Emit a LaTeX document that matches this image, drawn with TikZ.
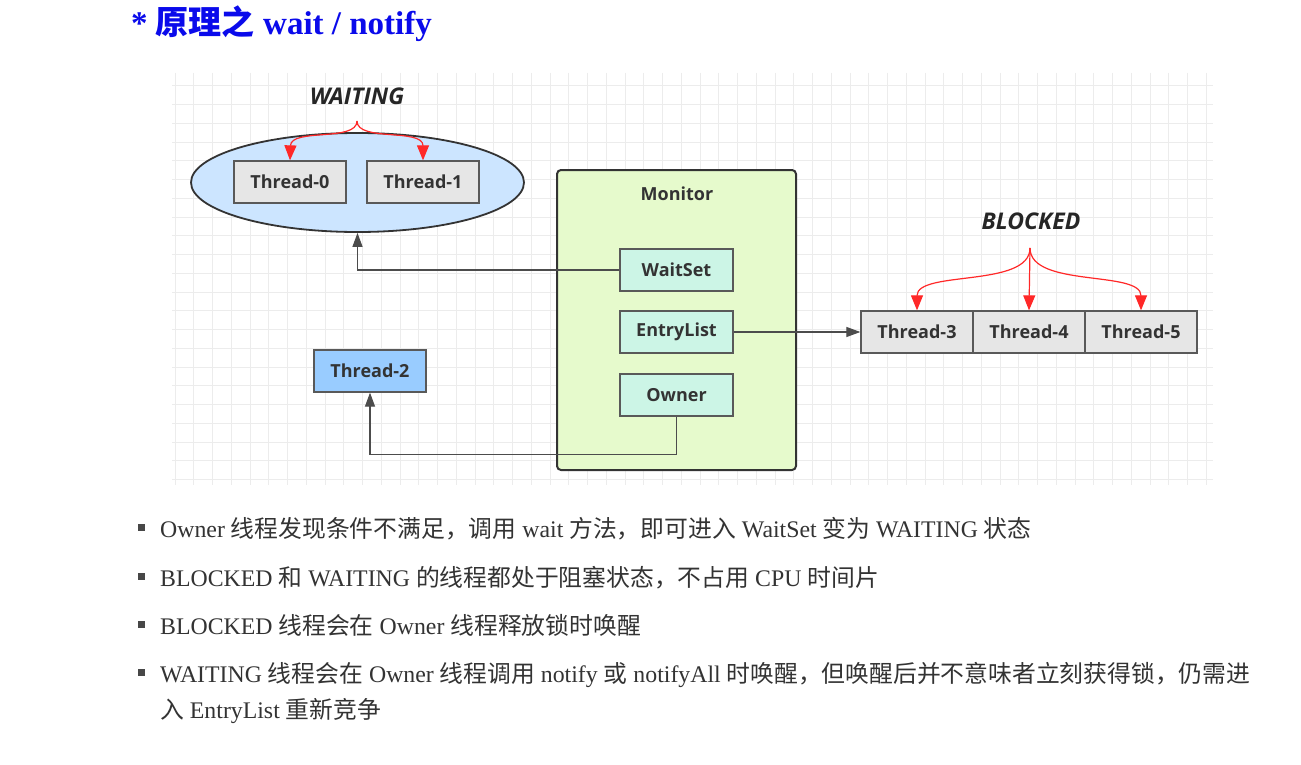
\documentclass[tikz,border=0pt]{standalone}
\usepackage{fontspec}
\setmainfont{Liberation Serif}
\newfontfamily\zhfont{Noto Sans CJK SC}
\newfontfamily\diagfont{Open Sans}
\usetikzlibrary{arrows.meta,shapes.geometric}
\definecolor{titleblue}{RGB}{10,10,235}
\definecolor{textgray}{RGB}{51,51,51}
\definecolor{ellblue}{RGB}{204,229,255}
\definecolor{monigreen}{RGB}{230,250,204}
\definecolor{slotmint}{RGB}{204,245,230}
\definecolor{boxgray}{RGB}{230,230,230}
\definecolor{threadblue}{RGB}{153,204,255}
\definecolor{gridgray}{RGB}{236,236,236}
\definecolor{arrred}{RGB}{255,40,40}
\newcommand{\zh}[1]{{\zhfont #1}}

\begin{document}
\begin{tikzpicture}[x=1pt,y=-1pt,
  threadbox/.style={draw=black!65, fill=boxgray, line width=1.3pt, minimum width=112pt, minimum height=42pt, inner sep=0pt,
    font=\diagfont\bfseries\fontsize{18}{20}\selectfont, text=black!80},
  slotbox/.style={threadbox, fill=slotmint, minimum width=113pt},
  statelabel/.style={font=\diagfont\bfseries\itshape\fontsize{23}{26}\selectfont, text=black!85},
  darr/.style={draw=black!70, line width=1.2pt, -{Triangle[length=14pt,width=10pt]}},
  redarr/.style={draw=arrred, line width=1.2pt, -{Triangle[length=15pt,width=12pt]}},
  bodytext/.style={anchor=base west, inner sep=0pt, text=textgray, font=\fontsize{23.8}{28}\selectfont},
  bulletsq/.style={fill=textgray!90, minimum size=7pt, inner sep=0pt}]
\useasboundingbox[fill=white] (0,0) rectangle (1301,765);

% grid background
\foreach \gx in {0,...,55}
  \draw[gridgray, line width=0.8pt] (175+18.75*\gx,73) -- (175+18.75*\gx,485);
\foreach \gy in {0,...,21}
  \draw[gridgray, line width=0.8pt] (172,85.75+18.75*\gy) -- (1213,85.75+18.75*\gy);

% title
\node[anchor=base west, inner sep=0pt, text=titleblue, font=\bfseries\fontsize{33}{36}\selectfont] (title) at (131,35) {* \zh{原理之} wait / notify};

% waiting side
\node[ellipse, draw=black!80, line width=1.8pt, fill=ellblue, minimum width=333pt, minimum height=99pt, inner sep=0pt] (waiting) at (357.5,182.5) {};
\node[threadbox] (t0) at (290,182) {Thread-0};
\node[threadbox] (t1) at (423,182) {Thread-1};
\node[statelabel] (waitlbl) at (357,96) {WAITING};
\coordinate (wfork) at (357,121);

% monitor
\node[draw=black!80, line width=2pt, rounded corners=4pt, fill=monigreen, minimum width=239pt, minimum height=300pt] (monitor) at (676.5,320) {};
\node[font=\diagfont\bfseries\fontsize{18}{20}\selectfont, text=black!80] (montitle) at (677,194) {Monitor};
\node[slotbox] (waitset) at (676.5,270) {WaitSet};
\node[slotbox] (entry) at (676.5,332) {EntryList};
\node[slotbox] (owner) at (676.5,395) {Owner};

% blocked side
\node[threadbox] (t3) at (917,332) {Thread-3};
\node[threadbox] (t4) at (1029,332) {Thread-4};
\node[threadbox] (t5) at (1141,332) {Thread-5};
\node[statelabel] (blocklbl) at (1031,221) {BLOCKED};
\coordinate (bfork) at (1030,248);

\node[threadbox, fill=threadblue] (t2) at (370,371) {Thread-2};

% connectors
\draw[redarr] (wfork) .. controls (357,142) and (291,128) .. (t0.north);
\draw[redarr] (wfork) .. controls (357,142) and (423,128) .. (t1.north);
\draw[redarr] (bfork) .. controls (1030,288) and (917,270) .. (t3.north);
\draw[redarr] (bfork) -- (t4.north);
\draw[redarr] (bfork) .. controls (1030,288) and (1141,270) .. (t5.north);
\draw[darr] (waitset.west) -| (waiting.south);
\draw[darr] (entry.east) -- (t3.west);
\draw[darr] (owner.south) -- ++(0,38) -| (t2.south);

% notes
\node[bulletsq] (b1) at (141,527.5) {};
\node[bodytext] (l1) at (160,537) {Owner \zh{线程发现条件不满足，调用} wait \zh{方法，即可进入} WaitSet \zh{变为} WAITING \zh{状态}};
\node[bulletsq] (b2) at (141,576.5) {};
\node[bodytext] (l2) at (160,586) {BLOCKED \zh{和} WAITING \zh{的线程都处于阻塞状态，不占用} CPU \zh{时间片}};
\node[bulletsq] (b3) at (141,624.5) {};
\node[bodytext] (l3) at (160,634) {BLOCKED \zh{线程会在} Owner \zh{线程释放锁时唤醒}};
\node[bulletsq] (b4) at (141,672.5) {};
\node[bodytext] (l4) at (160,682) {WAITING \zh{线程会在} Owner \zh{线程调用} notify \zh{或} notifyAll \zh{时唤醒，但唤醒后并不意味者立刻获得锁，仍需进}};
\node[bodytext] (l5) at (160,718) {\zh{入} EntryList \zh{重新竞争}};
\end{tikzpicture}
\end{document}
